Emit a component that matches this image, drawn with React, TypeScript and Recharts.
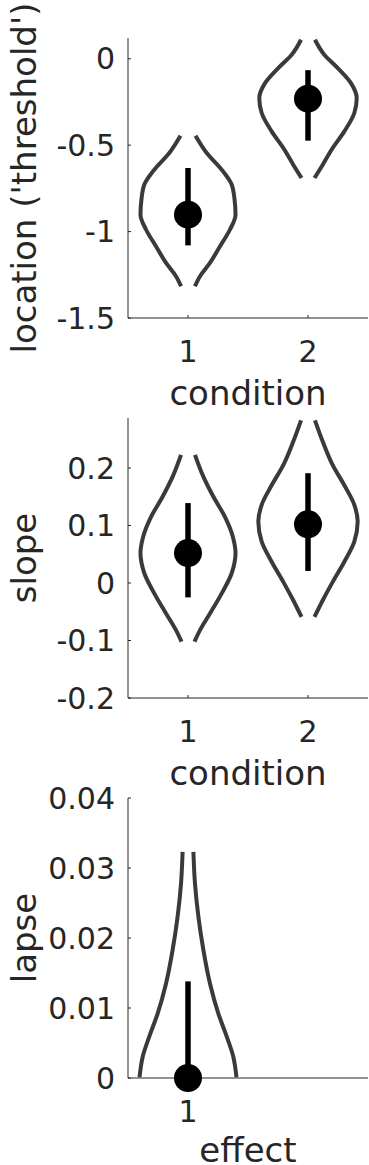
import React from 'react';
import { ComposedChart, Line, Scatter, XAxis, YAxis, Label } from 'recharts';

const INK = '#262626';
const VIOLIN = '#3a3a3a';
const FONT = "'DejaVu Sans', sans-serif";

// location ('threshold') panel
const locationConditions = [1, 2];
const locationTicks = [-1.5, -1, -0.5, 0];
const locationMean = [-0.902, -0.231];
const locationLow = [-1.08, -0.474];
const locationHigh = [-0.632, -0.066];
const locationViolinY = [
  [-0.445, -0.545, -0.642, -0.728, -0.815, -0.902, -0.988, -1.085, -1.181, -1.258, -1.316],
  [0.11, 0.023, -0.054, -0.141, -0.227, -0.314, -0.42, -0.516, -0.613, -0.69],
];
const locationViolinW = [
  [0.063, 0.156, 0.281, 0.364, 0.388, 0.396, 0.35, 0.267, 0.183, 0.1, 0.058],
  [0.058, 0.136, 0.248, 0.358, 0.406, 0.386, 0.303, 0.206, 0.123, 0.054],
];

// slope panel
const slopeConditions = [1, 2];
const slopeTicks = [-0.2, -0.1, 0, 0.1, 0.2];
const slopeMean = [0.052, 0.102];
const slopeLow = [-0.025, 0.021];
const slopeHigh = [0.139, 0.191];
const slopeViolinY = [
  [0.223, 0.185, 0.15, 0.115, 0.081, 0.052, 0.017, -0.018, -0.053, -0.082, -0.102],
  [0.283, 0.246, 0.205, 0.17, 0.136, 0.107, 0.072, 0.037, 0.002, -0.03, -0.059],
];
const slopeViolinW = [
  [0.058, 0.128, 0.212, 0.308, 0.373, 0.396, 0.364, 0.281, 0.183, 0.1, 0.054],
  [0.058, 0.123, 0.206, 0.303, 0.386, 0.414, 0.386, 0.303, 0.206, 0.123, 0.054],
];

// lapse panel
const lapseEffects = [1];
const lapseTicks = [0, 0.01, 0.02, 0.03, 0.04];
const lapseMean = [0];
const lapseLow = [0];
const lapseHigh = [0.0138];
const lapseViolinY = [[0.0323, 0.0278, 0.023, 0.0183, 0.0135, 0.0092, 0.0059, 0.003, 0.0001]];
const lapseViolinW = [[0.045, 0.058, 0.087, 0.128, 0.183, 0.253, 0.323, 0.378, 0.404]];

type Pt = { x: number; y: number };

interface PanelProps {
  top: number;
  height: number;
  xLabel: string;
  yLabel: string;
  labelOffset: number;
  xs: number[];
  yTicks: number[];
  yDomain: [number, number];
  mean: number[];
  low: number[];
  high: number[];
  violinY: number[][];
  violinW: number[][];
}

const Panel = ({ top, height, xLabel, yLabel, labelOffset, xs, yTicks, yDomain, mean, low, high, violinY, violinW }: PanelProps) => {
  const sides: Pt[][] = [];
  xs.forEach((c, i) => {
    sides.push(violinY[i].map((y, j) => ({ x: c - violinW[i][j], y })));
    sides.push(violinY[i].map((y, j) => ({ x: c + violinW[i][j], y })));
  });
  const bars: Pt[][] = xs.map((c, i) => [
    { x: c, y: low[i] },
    { x: c, y: high[i] },
  ]);
  const dots: Pt[] = xs.map((c, i) => ({ x: c, y: mean[i] }));
  const tickStyle = { fill: INK, fontSize: 30, fontFamily: FONT };

  return (
    <div style={{ position: 'absolute', left: 0, top, width: 369, height }}>
      <ComposedChart width={369} height={height} margin={{ top: 38, right: 1, bottom: 0, left: 0 }}>
        <XAxis
          type='number'
          dataKey='x'
          domain={[0.5, 2.5]}
          ticks={xs}
          interval={0}
          height={height - 38 - 280}
          axisLine={{ stroke: INK }}
          tickLine={{ stroke: INK }}
          tickSize={-3}
          tickMargin={26}
          tick={tickStyle}
        >
          <Label value={xLabel} position='insideBottom' offset={labelOffset} fill={INK} fontSize={34} fontFamily={FONT} />
        </XAxis>
        <YAxis
          type='number'
          dataKey='y'
          domain={yDomain}
          ticks={yTicks}
          interval={0}
          width={128}
          axisLine={{ stroke: INK }}
          tickLine={{ stroke: INK }}
          tickSize={-3}
          tickMargin={16}
          tick={tickStyle}
        >
          <Label
            value={yLabel}
            angle={-90}
            position='insideLeft'
            offset={24}
            fill={INK}
            fontSize={34}
            fontFamily={FONT}
            style={{ textAnchor: 'middle' }}
          />
        </YAxis>
        {sides.map((d, i) => (
          <Line
            key={`v${i}`}
            data={d}
            dataKey='y'
            type='monotoneY'
            stroke={VIOLIN}
            strokeWidth={4}
            dot={false}
            activeDot={false}
            legendType='none'
            isAnimationActive={false}
          />
        ))}
        {bars.map((d, i) => (
          <Line
            key={`b${i}`}
            data={d}
            dataKey='y'
            type='linear'
            stroke='#000000'
            strokeWidth={5.5}
            dot={false}
            activeDot={false}
            legendType='none'
            isAnimationActive={false}
          />
        ))}
        <Scatter
          data={dots}
          dataKey='y'
          isAnimationActive={false}
          shape={(p: any) => <circle cx={p.cx} cy={p.cy} r={14} fill='#000000' />}
        />
      </ComposedChart>
    </div>
  );
};

export default function App() {
  return (
    <div style={{ position: 'absolute', left: 0, top: 0, width: 369, height: 1165, overflow: 'hidden', background: '#ffffff', fontFamily: FONT }}>
      <Panel
        top={0}
        height={420}
        xLabel='condition'
        yLabel="location ('threshold')"
        labelOffset={15}
        xs={locationConditions}
        yTicks={locationTicks}
        yDomain={[-1.5, 0.12]}
        mean={locationMean}
        low={locationLow}
        high={locationHigh}
        violinY={locationViolinY}
        violinW={locationViolinW}
      />
      <Panel
        top={380}
        height={420}
        xLabel='condition'
        yLabel='slope'
        labelOffset={15}
        xs={slopeConditions}
        yTicks={slopeTicks}
        yDomain={[-0.2, 0.287]}
        mean={slopeMean}
        low={slopeLow}
        high={slopeHigh}
        violinY={slopeViolinY}
        violinW={slopeViolinW}
      />
      <Panel
        top={760}
        height={405}
        xLabel='effect'
        yLabel='lapse'
        labelOffset={3}
        xs={lapseEffects}
        yTicks={lapseTicks}
        yDomain={[0, 0.04]}
        mean={lapseMean}
        low={lapseLow}
        high={lapseHigh}
        violinY={lapseViolinY}
        violinW={lapseViolinW}
      />
    </div>
  );
}
